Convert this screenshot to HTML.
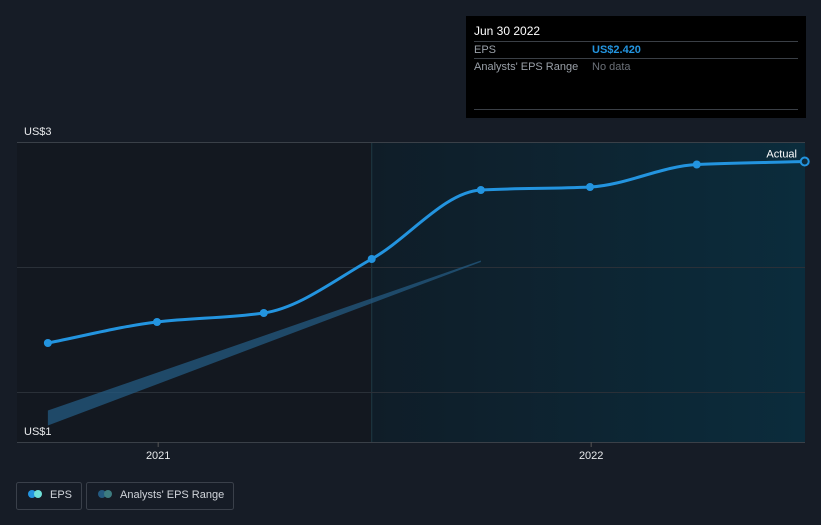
<!DOCTYPE html>
<html><head><meta charset="utf-8">
<style>
html,body{margin:0;padding:0;background:#161c26;}
body{width:821px;height:520px;overflow:hidden;font-family:"Liberation Sans",sans-serif;}
svg text{font-family:"Liberation Sans",sans-serif;}
</style></head>
<body>
<svg id="chart" width="821" height="520" viewBox="0 0 821 520" xmlns="http://www.w3.org/2000/svg">
<defs>
<linearGradient id="fc" x1="0" x2="1" y1="0" y2="0">
<stop offset="0" stop-color="#0f1d28"/><stop offset="1" stop-color="#0b2c3c"/>
</linearGradient>
</defs>
<rect x="0" y="0" width="821" height="520" fill="#161c26"/>
<rect x="17" y="142" width="788" height="300" fill="#131820"/>
<g id="shade"></g>
<g id="grid"></g>
<g id="band"></g>
<g id="line"></g>
<g id="axis"></g>
<g>
<rect x="466" y="16" width="340" height="102" fill="#000"/>
<text x="474" y="35" font-size="12" fill="#fff">Jun 30 2022</text>
<line x1="474" y1="41.5" x2="798" y2="41.5" stroke="#3a3f46"/>
<text x="474" y="53" font-size="11" fill="#9aa0a8">EPS</text>
<text x="592" y="53" font-size="11" fill="#2394df" font-weight="bold">US$2.420</text>
<line x1="474" y1="58.5" x2="798" y2="58.5" stroke="#3a3f46"/>
<text x="474" y="70" font-size="11" fill="#9aa0a8">Analysts' EPS Range</text>
<text x="592" y="70" font-size="11" fill="#6b7078">No data</text>
<line x1="474" y1="109.5" x2="798" y2="109.5" stroke="#3a3f46"/>
</g>
<g>
<g>
<rect x="16.5" y="482.5" width="65" height="27" rx="2" fill="none" stroke="#3a404a"/>
<circle cx="32" cy="494" r="4" fill="#2394df"/><circle cx="38" cy="494" r="4" fill="#6ee0d8"/>
<text x="50" y="498" font-size="11" fill="#d0d4da">EPS</text>
</g>
<g>
<rect x="86.5" y="482.5" width="147" height="27" rx="2" fill="none" stroke="#3a404a"/>
<circle cx="102" cy="494" r="4" fill="#245a80"/><circle cx="108" cy="494" r="4" fill="#3d7c80"/>
<text x="120" y="498" font-size="11" fill="#d0d4da">Analysts' EPS Range</text>
</g>
</g>
</svg>
<script>
const dates = ["2020-09-30","2020-12-31","2021-03-31","2021-06-30","2021-09-30","2021-12-31","2022-03-31","2022-06-30"];
const eps = [1.66, 1.80, 1.86, 2.22, 2.68, 2.70, 2.85, 2.87];
const rangeDates = ["2020-09-30","2021-09-30"];
const rangeLow = [1.11, 2.20];
const rangeHigh = [1.21, 2.21];
const yTicks = [3, 1];
const yTickLabels = ["US$3", "US$1"];
const xTicks = ["2021-01-01","2022-01-01"];
const xTickLabels = ["2021","2022"];
const forecastStart = "2021-06-30";

const NS="http://www.w3.org/2000/svg";
const t0=Date.parse("2020-12-31"), t1=Date.parse("2021-12-31");
function x(d){return 157+(Date.parse(d)-t0)/(t1-t0)*433;}
function y(v){return 442-(v-1)*150;}
function mk(tag,attrs,parent){const e=document.createElementNS(NS,tag);for(const k in attrs)e.setAttribute(k,attrs[k]);parent.appendChild(e);return e;}

const sh=mk('rect',{x:x(forecastStart),y:142,width:805-x(forecastStart),height:300,fill:'url(#fc)'},document.getElementById('shade'));


const sl=mk('line',{x1:x(forecastStart),x2:x(forecastStart),y1:142,y2:442,stroke:'#1e3a44'},document.getElementById('shade'));



const g=document.getElementById('grid');
[142,267,392].forEach((gy,i)=>{const l=mk('line',{x1:17,x2:805,y1:gy+0.5,y2:gy+0.5,stroke:i==0?'#3a4048':'#2a3038'},g);

});
const ax=mk('line',{x1:17,x2:805,y1:442.5,y2:442.5,stroke:'#3a4048'},g);



const a=document.getElementById('axis');
yTicks.forEach((v,i)=>{const tt=mk('text',{x:24,y:y(v)-7,'font-size':11,fill:'#e8eaec'},a);tt.textContent=yTickLabels[i];

});
xTicks.forEach((d,i)=>{mk('line',{x1:x(d),x2:x(d),y1:442,y2:447,stroke:'#555'},a);
const tt=mk('text',{x:x(d),y:459,'font-size':11,fill:'#e8eaec','text-anchor':'middle'},a);tt.textContent=xTickLabels[i];

});

let bp="M"+x(rangeDates[0])+","+y(rangeHigh[0]);
for(let i=1;i<rangeDates.length;i++)bp+=" L"+x(rangeDates[i])+","+y(rangeHigh[i]);
for(let i=rangeDates.length-1;i>=0;i--)bp+=" L"+x(rangeDates[i])+","+y(rangeLow[i]);
bp+="Z";
const band=mk('path',{d:bp,fill:'#245a80','fill-opacity':0.75},document.getElementById('band'));



// monotone cubic
const pts=dates.map((d,i)=>[x(d),y(eps[i])]);
const n=pts.length, dx=[], sl2=[], m=[];
for(let i=0;i<n-1;i++){dx[i]=pts[i+1][0]-pts[i][0];sl2[i]=(pts[i+1][1]-pts[i][1])/dx[i];}
m[0]=sl2[0];m[n-1]=sl2[n-2];
for(let i=1;i<n-1;i++){ if(sl2[i-1]*sl2[i]<=0) m[i]=0; else m[i]=2/(1/sl2[i-1]+1/sl2[i]); }
let d="M"+pts[0][0]+","+pts[0][1];
for(let i=0;i<n-1;i++){
 const h=dx[i]/3;
 d+=" C"+(pts[i][0]+h)+","+(pts[i][1]+m[i]*h)+" "+(pts[i+1][0]-h)+","+(pts[i+1][1]-m[i+1]*h)+" "+pts[i+1][0]+","+pts[i+1][1];
}
const L=document.getElementById('line');
const ln=mk('path',{d:d,fill:'none',stroke:'#2394df','stroke-width':3},L);


pts.forEach((p,i)=>{const last=i==pts.length-1;
const c=mk('circle',{cx:p[0],cy:p[1],r:4,fill:last?'#0e2a3a':'#2394df',stroke:last?'#2394df':'none','stroke-width':2},L);

});
const act=mk('text',{x:797,y:pts[pts.length-1][1]-4,'font-size':11,fill:'#fff','text-anchor':'end'},L);
act.textContent="Actual";


</script>
</body></html>
